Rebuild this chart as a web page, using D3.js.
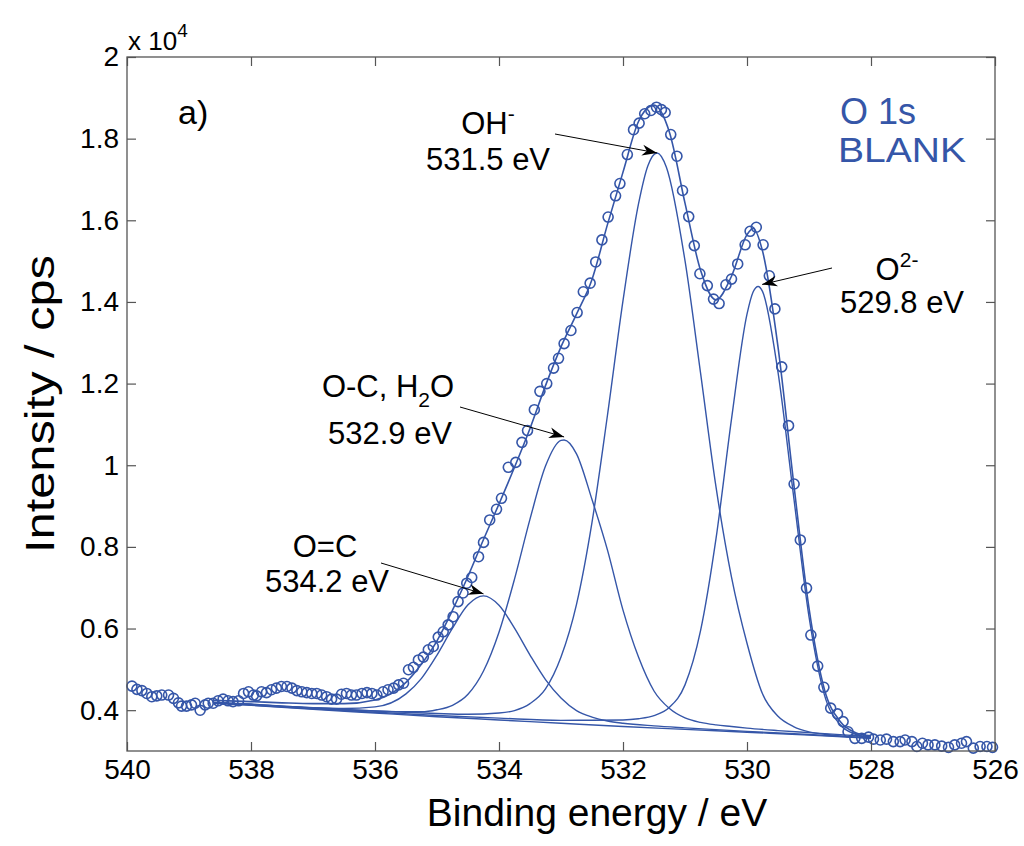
<!DOCTYPE html>
<html><head><meta charset="utf-8">
<script src="https://cdn.jsdelivr.net/npm/d3@7"></script>
<style>body{margin:0;background:#fff} text{font-family:"Liberation Sans",Arial,Helvetica,sans-serif}</style>
</head><body><svg id="c" width="1024" height="846"></svg>
<script>
// ---------- data (binding energy in eV, intensity in 1e4 cps) ----------
const xTicks = [540, 538, 536, 534, 532, 530, 528, 526];
const yTicks = [0.4, 0.6, 0.8, 1.0, 1.2, 1.4, 1.6, 1.8, 2.0];
const yTickLabels = ["0.4", "0.6", "0.8", "1", "1.2", "1.4", "1.6", "1.8", "2"];

const measured = [
 [539.92,0.459],[539.84,0.451],[539.76,0.448],[539.68,0.441],[539.60,0.433],[539.52,0.435],[539.44,0.437],
 [539.33,0.437],[539.25,0.429],[539.17,0.418],[539.12,0.410],[539.04,0.410],[538.96,0.413],[538.90,0.417],
 [538.82,0.400],[538.74,0.413],[538.69,0.417],[538.61,0.417],[538.53,0.423],[538.45,0.427],[538.37,0.423],
 [538.29,0.421],[538.20,0.423],[538.12,0.441],[538.04,0.445],[537.96,0.437],[537.91,0.435],[537.83,0.445],
 [537.75,0.443],[537.67,0.450],[537.59,0.454],[537.51,0.458],[537.42,0.458],[537.34,0.454],[537.26,0.448],
 [537.18,0.445],[537.10,0.443],[537.02,0.441],[536.94,0.441],[536.86,0.437],[536.78,0.433],[536.70,0.427],
 [536.62,0.427],[536.54,0.439],[536.46,0.441],[536.38,0.437],[536.30,0.437],[536.21,0.441],[536.13,0.443],
 [536.05,0.441],[535.97,0.437],[535.87,0.445],[535.79,0.450],[535.70,0.454],[535.62,0.462],[535.54,0.466],
 [535.46,0.499],[535.38,0.505],[535.30,0.523],[535.22,0.530],[535.14,0.548],[535.06,0.556],[534.98,0.579],
 [534.90,0.592],[534.82,0.609],[534.74,0.629],[534.66,0.666],[534.58,0.687],[534.52,0.711],[534.44,0.725],
 [534.33,0.776],[534.25,0.811],[534.15,0.866],[534.04,0.892],[533.96,0.919],[533.85,0.995],[533.73,1.007],
 [533.63,1.056],[533.54,1.085],[533.43,1.136],[533.34,1.181],[533.23,1.200],[533.12,1.238],[533.04,1.262],
 [532.95,1.298],[532.84,1.330],[532.74,1.374],[532.64,1.425],[532.53,1.446],[532.44,1.498],[532.34,1.552],
 [532.24,1.608],[532.12,1.660],[532.05,1.690],[531.93,1.761],[531.83,1.822],[531.74,1.838],[531.65,1.861],
 [531.55,1.869],[531.46,1.877],[531.38,1.871],[531.32,1.864],[531.23,1.810],[531.13,1.757],[531.04,1.673],
 [530.94,1.609],[530.85,1.538],[530.76,1.469],[530.64,1.440],[530.54,1.407],[530.45,1.396],[530.34,1.442],
 [530.25,1.456],[530.15,1.493],[530.03,1.540],[529.95,1.573],[529.85,1.583],[529.74,1.540],[529.64,1.464],
 [529.55,1.383],[529.44,1.241],[529.33,1.097],[529.24,0.954],[529.14,0.817],[529.04,0.699],[528.97,0.584],
 [528.86,0.508],[528.76,0.456],[528.65,0.405],[528.54,0.391],[528.45,0.372],[528.37,0.347],[528.26,0.331],
 [528.15,0.331],[528.04,0.334],[527.96,0.329],[527.85,0.327],[527.75,0.329],[527.64,0.323],[527.53,0.323],
 [527.45,0.327],[527.34,0.323],[527.26,0.311],[527.17,0.319],[527.08,0.315],[526.97,0.315],[526.86,0.312],
 [526.75,0.309],[526.65,0.315],[526.54,0.319],[526.46,0.323],[526.35,0.307],[526.24,0.311],[526.13,0.311],
 [526.04,0.309]
];

const background = [[538.6,0.417],[538,0.412],[537,0.402],[536,0.393],[535,0.384],[534,0.376],[533,0.368],
 [532,0.360],[531,0.353],[530,0.346],[529,0.339],[528,0.331]];

const peakOC = [[538.6,0.419],[538.0,0.414],[537.5,0.410],[537.0,0.406],[536.5,0.404],[536.0,0.408],[535.5,0.440],
 [535.25,0.478],[535.0,0.535],[534.75,0.601],[534.5,0.658],[534.25,0.680],[534.0,0.657],[533.75,0.601],[533.5,0.535],
 [533.25,0.475],[533.0,0.430],[532.75,0.399],[532.5,0.383],[532.25,0.3735],[532.0,0.368],[531.5,0.3615],[531.0,0.3566],
 [530.0,0.348],[529.0,0.3404],[528.0,0.332]];

const peakOCH2O = [[538.6,0.418],[538.0,0.414],[537.5,0.409],[537.0,0.405],[536.5,0.401],[536.0,0.398],[535.5,0.396],
 [535.25,0.396],[535.0,0.401],[534.75,0.412],[534.5,0.439],[534.25,0.496],[534.0,0.591],[533.75,0.721],[533.5,0.868],
 [533.25,0.998],[533.0,1.061],[532.95,1.062],[532.75,1.028],[532.5,0.916],[532.25,0.792],[532.0,0.645],[531.75,0.530],
 [531.5,0.447],[531.25,0.404],[531.0,0.381],[530.75,0.370],[530.5,0.364],[530.25,0.360],[530.0,0.356],[529.5,0.350],
 [529.0,0.345],[528.5,0.340],[528.0,0.335]];

const peakOH = [[538.6,0.419],[538.0,0.415],[537.5,0.410],[537.0,0.406],[536.5,0.402],[536.0,0.398],[535.5,0.395],
 [535.0,0.392],[534.5,0.390],[534.0,0.393],[533.75,0.399],[533.5,0.416],[533.25,0.452],[533.0,0.530],[532.75,0.659],
 [532.5,0.860],[532.25,1.123],[532.0,1.403],[531.75,1.640],[531.6,1.733],[531.45,1.765],[531.3,1.730],[531.0,1.501],
 [530.75,1.227],[530.5,0.947],[530.25,0.726],[530.0,0.564],[529.75,0.440],[529.5,0.385],[529.25,0.360],[529.0,0.347],
 [528.75,0.341],[528.5,0.337],[528.0,0.332]];

const peakO2 = [[538.6,0.418],[537.0,0.4035],[536.0,0.395],[535.0,0.387],[534.0,0.3805],[533.0,0.375],[532.5,0.3755],
 [532.0,0.376],[531.75,0.379],[531.5,0.3865],[531.25,0.407],[531.0,0.462],[530.75,0.594],[530.5,0.820],[530.25,1.113],
 [530.0,1.370],[529.9,1.425],[529.82,1.438],[529.75,1.426],[529.5,1.228],[529.25,0.926],[529.0,0.629],[528.75,0.437],
 [528.5,0.365],[528.25,0.341],[528.0,0.333]];

const envelope = [[538.6,0.424],[538.0,0.421],[537.5,0.418],[537.0,0.416],[536.5,0.416],[536.0,0.425],[535.5,0.468],
 [535.25,0.513],[535.0,0.570],[534.75,0.645],[534.5,0.728],[534.25,0.818],[534.0,0.905],[533.75,0.995],[533.5,1.090],
 [533.25,1.195],[533.0,1.290],[532.75,1.370],[532.5,1.455],[532.25,1.590],[532.0,1.718],[531.75,1.842],[531.5,1.882],
 [531.25,1.815],[531.0,1.642],[530.75,1.478],[530.5,1.405],[530.25,1.463],[530.0,1.565],[529.9,1.580],[529.75,1.525],
 [529.5,1.290],[529.25,0.960],[529.0,0.650],[528.75,0.450],[528.5,0.373],[528.25,0.345],[528.0,0.337]];

// ---------- drawing ----------
const W = 1024, H = 846;
const L = 127, R = 995, T = 57, B = 751;
const blue = "#3556a8";
const svg = d3.select("#c");
svg.append("rect").attr("width", W).attr("height", H).attr("fill", "#fff");

const x = d3.scaleLinear().domain([540, 526]).range([L, R]);
const y = d3.scaleLinear().domain([0.3, 2.0]).range([B, T]);

const line = d3.line().x(d => x(d[0])).y(d => y(d[1])).curve(d3.curveMonotoneX);

const plot = svg.append("g");
[background, peakOC, peakOCH2O, peakOH, peakO2].forEach(s => {
  plot.append("path").datum(s).attr("d", line).attr("fill", "none")
    .attr("stroke", blue).attr("stroke-width", 1.4);
});
plot.append("path").datum(envelope).attr("d", line).attr("fill", "none")
  .attr("stroke", blue).attr("stroke-width", 1.6);
plot.selectAll("circle.m").data(measured).join("circle").attr("class", "m")
  .attr("cx", d => x(d[0])).attr("cy", d => y(d[1])).attr("r", 5)
  .attr("fill", "none").attr("stroke", blue).attr("stroke-width", 1.6);

// axes (inward ticks on all sides)
const axisColor = "#555";
const fontTick = 28;
function styleAxis(g) {
  g.select(".domain").remove();
  g.selectAll(".tick line").attr("stroke", axisColor).attr("stroke-width", 1.2);
  g.selectAll("text").attr("font-size", fontTick).attr("fill", "#000")
    .attr("font-family", "'Liberation Sans', Arial, sans-serif");
}
svg.append("g").attr("transform", `translate(0,${B})`)
  .call(d3.axisBottom(x).tickValues(xTicks).tickSize(-9).tickPadding(8).tickFormat(d3.format("d")))
  .call(styleAxis);
svg.append("g").attr("transform", `translate(0,${T})`)
  .call(d3.axisTop(x).tickValues(xTicks).tickSize(-9).tickFormat(""))
  .call(styleAxis);
svg.append("g").attr("transform", `translate(${L},0)`)
  .call(d3.axisLeft(y).tickValues(yTicks).tickSize(-9).tickPadding(8).tickFormat((d, i) => yTickLabels[i]))
  .call(styleAxis);
svg.append("g").attr("transform", `translate(${R},0)`)
  .call(d3.axisRight(y).tickValues(yTicks).tickSize(-9).tickFormat(""))
  .call(styleAxis);
svg.append("rect").attr("x", L).attr("y", T).attr("width", R - L).attr("height", B - T)
  .attr("fill", "none").attr("stroke", axisColor).attr("stroke-width", 1.3);

// exponent
const ex = svg.append("text").attr("x", 128).attr("y", 50).attr("font-size", 26).text("x 10");
ex.append("tspan").attr("dy", -13).attr("font-size", 19).text("4");

// axis titles
svg.append("text").attr("x", (L + R) / 2 + 36).attr("y", 826).attr("text-anchor", "middle")
  .attr("font-size", 39).text("Binding energy / eV");
svg.append("text").attr("transform", `translate(54,${(T + B) / 2}) rotate(-90)`).attr("text-anchor", "middle")
  .attr("font-size", 40).attr("textLength", 298).attr("lengthAdjust", "spacingAndGlyphs").text("Intensity / cps");

// panel label and sample tag
svg.append("text").attr("x", 178).attr("y", 124).attr("font-size", 34).text("a)");
svg.append("text").attr("x", 840).attr("y", 124).attr("font-size", 36).attr("fill", blue).text("O 1s");
svg.append("text").attr("x", 838).attr("y", 162).attr("font-size", 35)
  .attr("textLength", 128).attr("lengthAdjust", "spacingAndGlyphs").attr("fill", blue).text("BLANK");

// annotations with arrows
const apex = s => s.reduce((a, b) => (b[1] > a[1] ? b : a));
function arrow(x0, y0, x1, y1) {
  svg.append("line").attr("x1", x0).attr("y1", y0).attr("x2", x1).attr("y2", y1)
    .attr("stroke", "#000").attr("stroke-width", 1);
  const ang = Math.atan2(y1 - y0, x1 - x0) * 180 / Math.PI;
  svg.append("path").attr("d", "M0,0 L-15,-5.5 L-10.5,0 L-15,5.5 Z").attr("fill", "#000")
    .attr("transform", `translate(${x1},${y1}) rotate(${ang})`);
}
const fa = 31;
// OH-
let t = svg.append("text").attr("x", 488).attr("y", 134).attr("text-anchor", "middle").attr("font-size", fa).text("OH");
t.append("tspan").attr("dy", -13).attr("font-size", 21).text("-");
svg.append("text").attr("x", 488).attr("y", 170).attr("text-anchor", "middle").attr("font-size", fa).text("531.5 eV");
let p = apex(peakOH); arrow(555, 134, x(p[0]), y(p[1]));
// O2-
t = svg.append("text").attr("x", 897).attr("y", 280).attr("text-anchor", "middle").attr("font-size", fa).text("O");
t.append("tspan").attr("dy", -13).attr("font-size", 21).text("2-");
svg.append("text").attr("x", 902).attr("y", 313).attr("text-anchor", "middle").attr("font-size", fa).text("529.8 eV");
p = apex(peakO2); arrow(832, 268, x(p[0]) + 4, y(p[1]) - 2);
// O-C, H2O
t = svg.append("text").attr("x", 388).attr("y", 397).attr("text-anchor", "middle").attr("font-size", fa).text("O-C, H");
t.append("tspan").attr("dy", 10).attr("font-size", 21).text("2");
t.append("tspan").attr("dy", -10).text("O");
svg.append("text").attr("x", 390).attr("y", 444).attr("text-anchor", "middle").attr("font-size", fa).text("532.9 eV");
p = apex(peakOCH2O); arrow(460, 407, x(p[0]), y(p[1]) - 3);
// O=C
svg.append("text").attr("x", 325).attr("y", 557).attr("text-anchor", "middle").attr("font-size", fa).text("O=C");
svg.append("text").attr("x", 327).attr("y", 592).attr("text-anchor", "middle").attr("font-size", fa).text("534.2 eV");
p = apex(peakOC); arrow(381, 563, x(p[0]), y(p[1]) - 2);
</script></body></html>
